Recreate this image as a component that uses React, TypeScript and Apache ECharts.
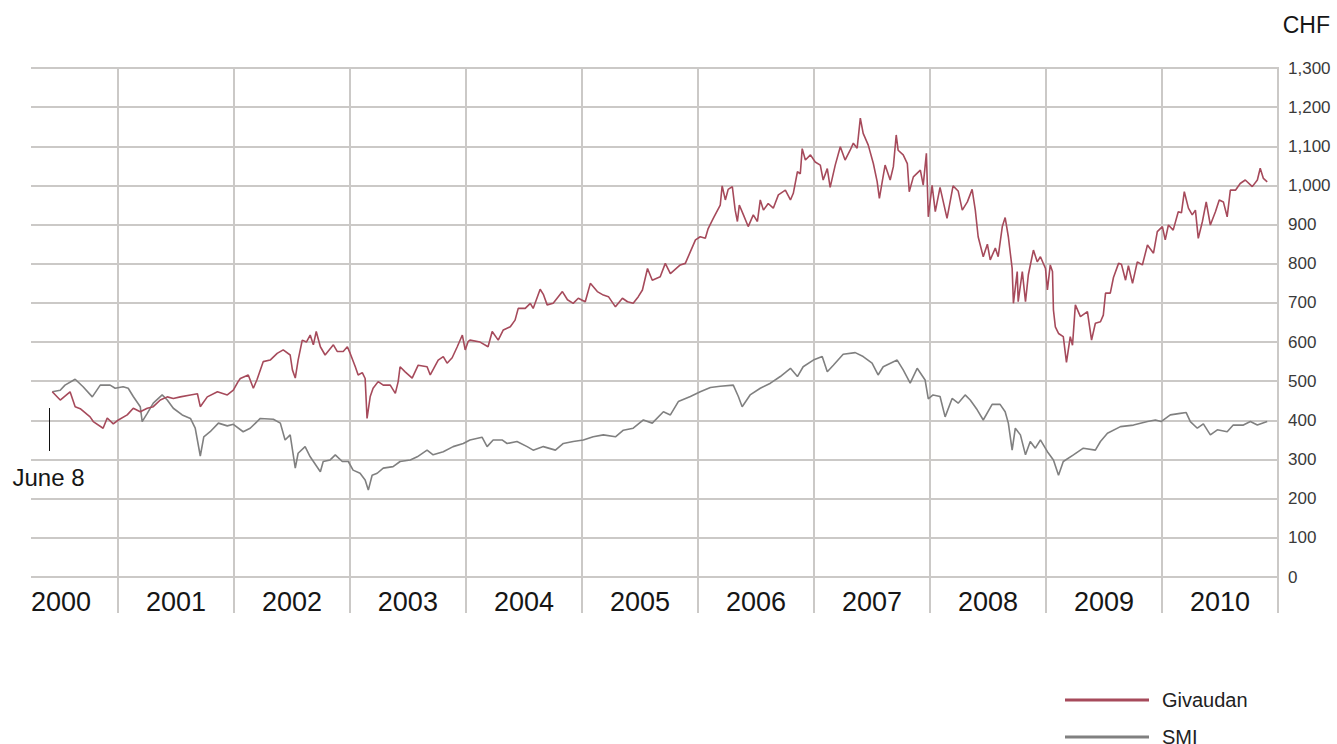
import React, { useEffect, useRef } from "react";
import * as echarts from "echarts";

const X_MIN = "2000-04-02";
const X_MAX = "2011-01-01";
const YEAR_LABELS = ["2000", "2001", "2002", "2003", "2004", "2005", "2006", "2007", "2008", "2009", "2010"];
const YEAR_ENDS = ["2001-01-01", "2002-01-01", "2003-01-01", "2004-01-01", "2005-01-01", "2006-01-01", "2007-01-01", "2008-01-01", "2009-01-01", "2010-01-01", "2011-01-01"];
const Y_MIN = 0;
const Y_MAX = 1300;
const Y_STEP = 100;
const START_LABEL = "June 8";
const UNIT = "CHF";
const SERIES_NAMES = ["Givaudan", "SMI"];

const givaudan: [string, number][] = [
  ["2000-06-08", 473], ["2000-07-03", 452], ["2000-08-03", 473], ["2000-08-19", 435], ["2000-09-04", 430],
  ["2000-10-05", 409], ["2000-10-15", 397], ["2000-11-15", 380], ["2000-11-28", 406], ["2000-12-17", 391],
  ["2001-01-02", 401], ["2001-01-30", 414], ["2001-02-18", 431], ["2001-03-12", 422], ["2001-04-03", 431],
  ["2001-04-22", 435], ["2001-05-14", 452], ["2001-06-05", 460], ["2001-06-24", 456], ["2001-07-16", 460],
  ["2001-08-17", 465], ["2001-09-08", 468], ["2001-09-17", 435], ["2001-10-09", 460], ["2001-11-10", 473],
  ["2001-12-11", 465], ["2001-12-30", 477], ["2002-01-14", 499], ["2002-01-21", 507], ["2002-02-15", 516],
  ["2002-03-03", 482], ["2002-03-15", 505], ["2002-04-03", 550], ["2002-04-25", 554], ["2002-05-17", 571],
  ["2002-06-05", 580], ["2002-06-27", 567], ["2002-07-04", 529], ["2002-07-13", 508], ["2002-07-22", 554],
  ["2002-08-04", 605], ["2002-08-17", 600], ["2002-08-29", 618], ["2002-09-08", 593], ["2002-09-17", 627],
  ["2002-09-30", 588], ["2002-10-15", 567], ["2002-11-10", 593], ["2002-11-22", 576], ["2002-12-11", 576],
  ["2002-12-24", 588], ["2003-01-02", 571], ["2003-01-18", 537], ["2003-01-27", 516], ["2003-02-09", 522],
  ["2003-02-18", 507], ["2003-02-24", 405], ["2003-03-06", 461], ["2003-03-15", 482], ["2003-03-31", 499],
  ["2003-04-16", 490], ["2003-05-08", 490], ["2003-05-24", 469], ["2003-06-02", 499], ["2003-06-08", 537],
  ["2003-06-24", 524], ["2003-07-16", 508], ["2003-08-04", 541], ["2003-09-01", 537], ["2003-09-11", 516],
  ["2003-10-06", 554], ["2003-10-22", 563], ["2003-11-03", 546], ["2003-11-19", 560], ["2003-12-05", 588],
  ["2003-12-21", 618], ["2003-12-30", 580], ["2004-01-08", 601], ["2004-01-14", 605], ["2004-02-15", 600],
  ["2004-03-11", 588], ["2004-03-24", 627], ["2004-04-12", 605], ["2004-04-28", 631], ["2004-05-20", 639],
  ["2004-06-04", 656], ["2004-06-14", 686], ["2004-07-06", 686], ["2004-07-22", 699], ["2004-07-31", 686],
  ["2004-08-22", 735], ["2004-09-01", 722], ["2004-09-13", 695], ["2004-10-02", 699], ["2004-10-31", 729],
  ["2004-11-16", 708], ["2004-12-04", 699], ["2004-12-20", 712], ["2005-01-11", 703], ["2005-01-27", 750],
  ["2005-02-18", 729], ["2005-03-09", 720], ["2005-03-25", 716], ["2005-04-16", 690], ["2005-05-08", 712],
  ["2005-05-24", 703], ["2005-06-11", 699], ["2005-06-27", 716], ["2005-07-10", 733], ["2005-07-26", 788],
  ["2005-08-10", 758], ["2005-09-04", 767], ["2005-09-20", 801], ["2005-10-06", 775], ["2005-11-06", 797],
  ["2005-11-22", 801], ["2005-12-08", 831], ["2005-12-24", 861], ["2006-01-08", 869], ["2006-01-24", 865],
  ["2006-02-02", 890], ["2006-02-18", 916], ["2006-03-12", 950], ["2006-03-18", 999], ["2006-03-28", 963],
  ["2006-04-06", 990], ["2006-04-19", 997], ["2006-04-28", 937], ["2006-05-05", 908], ["2006-05-11", 950],
  ["2006-05-24", 925], ["2006-06-08", 895], ["2006-06-24", 925], ["2006-07-07", 908], ["2006-07-16", 963],
  ["2006-07-26", 937], ["2006-08-10", 954], ["2006-08-26", 942], ["2006-09-11", 976], ["2006-10-03", 988],
  ["2006-10-19", 963], ["2006-10-28", 980], ["2006-11-10", 1035], ["2006-11-19", 1030], ["2006-11-25", 1094],
  ["2006-12-05", 1065], ["2006-12-21", 1078], ["2007-01-05", 1060], ["2007-01-21", 1052], ["2007-01-30", 1014],
  ["2007-02-12", 1043], ["2007-02-21", 995], ["2007-03-09", 1052], ["2007-03-25", 1099], ["2007-04-09", 1065],
  ["2007-04-25", 1090], ["2007-05-05", 1108], ["2007-05-17", 1095], ["2007-05-27", 1172], ["2007-06-05", 1133],
  ["2007-06-21", 1103], ["2007-07-07", 1056], ["2007-07-19", 1010], ["2007-07-26", 967], ["2007-08-04", 1010],
  ["2007-08-13", 1052], ["2007-08-29", 1014], ["2007-09-08", 1048], ["2007-09-17", 1129], ["2007-09-23", 1090],
  ["2007-10-09", 1078], ["2007-10-22", 1056], ["2007-10-28", 984], ["2007-11-10", 1022], ["2007-12-02", 1039],
  ["2007-12-11", 1001], ["2007-12-21", 1082], ["2007-12-27", 920], ["2008-01-08", 1000], ["2008-01-18", 933],
  ["2008-02-02", 995], ["2008-02-24", 916], ["2008-03-14", 999], ["2008-03-30", 986], ["2008-04-12", 937],
  ["2008-04-28", 958], ["2008-05-13", 990], ["2008-05-23", 937], ["2008-06-01", 869], ["2008-06-17", 818],
  ["2008-06-30", 850], ["2008-07-09", 810], ["2008-07-25", 840], ["2008-08-03", 818], ["2008-08-16", 895],
  ["2008-08-25", 918], ["2008-09-04", 869], ["2008-09-16", 788], ["2008-09-20", 699], ["2008-10-02", 780],
  ["2008-10-05", 703], ["2008-10-18", 780], ["2008-10-28", 703], ["2008-11-06", 772], ["2008-11-22", 835],
  ["2008-12-04", 805], ["2008-12-14", 818], ["2008-12-30", 788], ["2009-01-05", 733], ["2009-01-14", 797],
  ["2009-01-21", 780], ["2009-01-24", 682], ["2009-01-30", 639], ["2009-02-09", 622], ["2009-02-24", 614],
  ["2009-03-06", 548], ["2009-03-18", 614], ["2009-03-25", 592], ["2009-04-03", 695], ["2009-04-19", 665],
  ["2009-05-11", 678], ["2009-05-24", 605], ["2009-06-05", 648], ["2009-06-21", 652], ["2009-06-30", 669],
  ["2009-07-07", 725], ["2009-07-22", 725], ["2009-08-01", 765], ["2009-08-17", 801], ["2009-08-26", 799],
  ["2009-09-08", 758], ["2009-09-17", 795], ["2009-09-30", 750], ["2009-10-15", 805], ["2009-10-31", 797],
  ["2009-11-16", 848], ["2009-12-05", 827], ["2009-12-17", 882], ["2010-01-02", 895], ["2010-01-11", 861],
  ["2010-01-21", 899], ["2010-02-05", 886], ["2010-02-21", 933], ["2010-03-03", 930], ["2010-03-12", 984],
  ["2010-03-25", 942], ["2010-04-06", 925], ["2010-04-16", 937], ["2010-04-25", 865], ["2010-05-08", 908],
  ["2010-05-20", 958], ["2010-06-02", 899], ["2010-06-18", 933], ["2010-06-30", 963], ["2010-07-13", 958],
  ["2010-07-25", 920], ["2010-08-04", 988], ["2010-08-20", 988], ["2010-09-04", 1005], ["2010-09-20", 1014],
  ["2010-10-12", 997], ["2010-10-28", 1014], ["2010-11-06", 1044], ["2010-11-16", 1018], ["2010-11-28", 1009],
];

const smi: [string, number][] = [
  ["2000-06-08", 473], ["2000-07-03", 477], ["2000-07-18", 490], ["2000-08-19", 505], ["2000-09-13", 486],
  ["2000-10-12", 460], ["2000-11-06", 490], ["2000-12-07", 490], ["2000-12-23", 482], ["2001-01-17", 486],
  ["2001-02-02", 482], ["2001-02-18", 461], ["2001-03-12", 435], ["2001-03-18", 397], ["2001-04-03", 418],
  ["2001-04-22", 444], ["2001-05-20", 465], ["2001-06-05", 452], ["2001-06-24", 431], ["2001-07-22", 414],
  ["2001-08-17", 405], ["2001-09-01", 380], ["2001-09-17", 309], ["2001-09-28", 358], ["2001-10-18", 371],
  ["2001-11-13", 393], ["2001-12-11", 386], ["2001-12-30", 390], ["2002-01-30", 371], ["2002-02-21", 380],
  ["2002-03-25", 405], ["2002-05-05", 403], ["2002-05-27", 393], ["2002-06-11", 350], ["2002-06-27", 363],
  ["2002-07-13", 278], ["2002-07-22", 316], ["2002-08-13", 333], ["2002-08-29", 307], ["2002-09-30", 269],
  ["2002-10-09", 295], ["2002-10-31", 299], ["2002-11-16", 312], ["2002-12-08", 295], ["2002-12-27", 295],
  ["2003-01-11", 273], ["2003-02-02", 265], ["2003-02-18", 248], ["2003-02-28", 222], ["2003-03-12", 260],
  ["2003-03-28", 265], ["2003-04-16", 278], ["2003-05-17", 282], ["2003-06-08", 295], ["2003-07-10", 299],
  ["2003-08-01", 307], ["2003-09-01", 324], ["2003-09-20", 312], ["2003-10-22", 320], ["2003-11-22", 333],
  ["2003-12-24", 341], ["2004-01-14", 350], ["2004-02-21", 357], ["2004-03-08", 333], ["2004-03-27", 350],
  ["2004-04-24", 350], ["2004-05-10", 341], ["2004-06-10", 346], ["2004-07-12", 333], ["2004-07-31", 324],
  ["2004-09-01", 333], ["2004-10-09", 324], ["2004-11-03", 341], ["2004-12-04", 346], ["2005-01-05", 350],
  ["2005-02-05", 358], ["2005-03-09", 363], ["2005-04-16", 358], ["2005-05-11", 375], ["2005-06-11", 380],
  ["2005-07-13", 401], ["2005-08-10", 393], ["2005-09-14", 422], ["2005-10-06", 414], ["2005-10-31", 448],
  ["2005-12-08", 461], ["2006-01-08", 473], ["2006-02-09", 484], ["2006-03-12", 487], ["2006-04-22", 490],
  ["2006-05-08", 461], ["2006-05-20", 435], ["2006-06-14", 465], ["2006-07-16", 482], ["2006-08-17", 495],
  ["2006-09-17", 512], ["2006-10-19", 533], ["2006-11-10", 512], ["2006-11-28", 537], ["2006-12-30", 554],
  ["2007-01-27", 563], ["2007-02-12", 524], ["2007-03-03", 541], ["2007-04-03", 569], ["2007-05-11", 573],
  ["2007-06-05", 563], ["2007-07-03", 546], ["2007-07-22", 516], ["2007-08-07", 537], ["2007-09-20", 554],
  ["2007-10-09", 529], ["2007-10-31", 495], ["2007-11-22", 533], ["2007-12-17", 503], ["2007-12-27", 455],
  ["2008-01-11", 465], ["2008-02-02", 461], ["2008-02-18", 409], ["2008-03-11", 456], ["2008-03-30", 444],
  ["2008-04-21", 465], ["2008-05-07", 452], ["2008-05-29", 427], ["2008-06-17", 401], ["2008-07-15", 441],
  ["2008-08-09", 441], ["2008-08-25", 422], ["2008-09-04", 393], ["2008-09-16", 324], ["2008-09-26", 380],
  ["2008-10-12", 363], ["2008-10-28", 312], ["2008-11-12", 346], ["2008-11-28", 329], ["2008-12-14", 350],
  ["2009-01-05", 320], ["2009-01-24", 299], ["2009-02-09", 260], ["2009-02-24", 295], ["2009-03-28", 312],
  ["2009-04-28", 329], ["2009-06-05", 324], ["2009-06-21", 346], ["2009-07-13", 367], ["2009-08-23", 384],
  ["2009-10-03", 388], ["2009-11-16", 397], ["2009-12-11", 401], ["2009-12-29", 397], ["2010-01-27", 414],
  ["2010-02-27", 418], ["2010-03-18", 420], ["2010-03-31", 397], ["2010-04-22", 380], ["2010-05-11", 391],
  ["2010-06-02", 363], ["2010-06-24", 376], ["2010-07-25", 371], ["2010-08-13", 388], ["2010-09-14", 388],
  ["2010-10-06", 397], ["2010-10-28", 388], ["2010-11-28", 397],
];

const FONT = "'Liberation Sans', Arial, Helvetica, sans-serif";
const GRID_COLOR = "#cbc9c7";
const RED = "#a64a5b";
const GRAY = "#808080";

function ts(s: string): number {
  const [y, m, d] = s.split("-").map(Number);
  return new Date(y, m - 1, d).getTime();
}

function legendFor(name: string, top: number): any {
  return {
    orient: "vertical",
    left: 1065,
    top,
    padding: 0,
    itemWidth: 84,
    itemHeight: 3,
    icon: "rect",
    textStyle: { fontSize: 20, color: "#222", fontFamily: FONT, padding: [0, 0, 0, 8] },
    data: [name],
  };
}

export default function App() {
  const ref = useRef<HTMLDivElement>(null);

  useEffect(() => {
    if (!ref.current) return;
    const chart = echarts.init(ref.current, undefined, { renderer: "svg" });
    const base: any = {
      animation: false,
      backgroundColor: "#ffffff",
      textStyle: { fontFamily: FONT },
      grid: { left: 31, right: 59, top: 68, bottom: 167, containLabel: false },
      xAxis: {
        type: "time",
        min: ts(X_MIN),
        max: ts(X_MAX),
        axisLine: { show: false },
        axisTick: { show: false },
        axisLabel: { show: false },
        splitLine: { show: false },
      },
      yAxis: {
        type: "value",
        position: "right",
        min: Y_MIN,
        max: Y_MAX,
        interval: Y_STEP,
        axisLine: { show: false },
        axisTick: { show: false },
        axisLabel: {
          margin: 10,
          color: "#3a3a3a",
          fontSize: 17,
          fontFamily: FONT,
          formatter: (v: number) => v.toLocaleString("en-US"),
        },
        splitLine: { show: true, lineStyle: { color: GRID_COLOR, width: 2 } },
      },
      legend: [legendFor(SERIES_NAMES[0], 690), legendFor(SERIES_NAMES[1], 727)],
      series: [
        {
          name: SERIES_NAMES[0],
          type: "line",
          data: givaudan.map(([d, v]) => [ts(d), v]),
          showSymbol: false,
          symbol: "none",
          lineStyle: { color: RED, width: 1.6 },
          itemStyle: { color: RED },
          z: 4,
        },
        {
          name: SERIES_NAMES[1],
          type: "line",
          data: smi.map(([d, v]) => [ts(d), v]),
          showSymbol: false,
          symbol: "none",
          lineStyle: { color: GRAY, width: 1.6 },
          itemStyle: { color: GRAY },
          z: 3,
        },
      ],
    };
    chart.setOption(base);

    const px = (d: string) => (chart.convertToPixel({ gridIndex: 0 }, [ts(d), 0]) as number[])[0];
    const py = (v: number) => (chart.convertToPixel({ gridIndex: 0 }, [ts(X_MIN), v]) as number[])[1];
    const plotLeft = px(X_MIN);
    const yTop = py(Y_MAX);
    const yZero = py(0);
    const elements: any[] = [];
    YEAR_ENDS.forEach((d) => {
      const x = Math.round(px(d));
      elements.push({
        type: "line",
        z: 1,
        silent: true,
        shape: { x1: x, y1: yTop - 1, x2: x, y2: yZero + 36 },
        style: { stroke: GRID_COLOR, lineWidth: 2 },
      });
    });
    YEAR_LABELS.forEach((label, i) => {
      const end = px(YEAR_ENDS[i]);
      const start = i === 0 ? plotLeft : px(YEAR_ENDS[i - 1]);
      elements.push({
        type: "text",
        z: 5,
        silent: true,
        x: i === 0 ? start : (start + end) / 2,
        y: yZero + 25,
        style: {
          text: label,
          fontSize: 27,
          fontFamily: FONT,
          fill: "#161616",
          align: i === 0 ? "left" : "center",
          verticalAlign: "middle",
        },
      });
    });
    const startX = Math.round(px(givaudan[0][0])) - 2.5;
    elements.push({
      type: "line",
      z: 5,
      silent: true,
      shape: { x1: startX, y1: 408, x2: startX, y2: 451 },
      style: { stroke: "#111", lineWidth: 1 },
    });
    elements.push({
      type: "text",
      z: 5,
      silent: true,
      x: startX - 1,
      y: 477,
      style: { text: START_LABEL, fontSize: 24, fontFamily: FONT, fill: "#161616", align: "center", verticalAlign: "middle" },
    });
    elements.push({
      type: "text",
      z: 5,
      silent: true,
      right: 7,
      top: 13,
      style: { text: UNIT, fontSize: 23, fontFamily: FONT, fill: "#161616" },
    });
    chart.setOption({ graphic: { elements } });

    return () => chart.dispose();
  }, []);

  return <div ref={ref} style={{ position: "absolute", left: 0, top: 0, width: 1337, height: 744 }} />;
}
